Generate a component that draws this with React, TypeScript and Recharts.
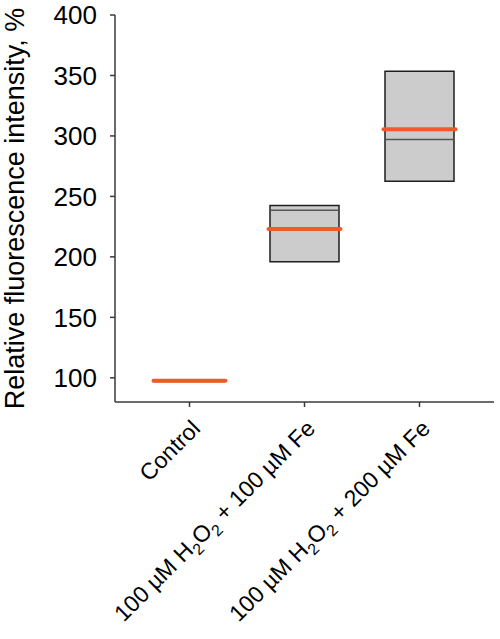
import React from 'react';
import { ComposedChart, Bar, Line, XAxis, YAxis, Label } from 'recharts';

const categories = ['Control', '100 µM H2O2 + 100 µM Fe', '100 µM H2O2 + 200 µM Fe'];
const boxLow = [97, 196, 262.5];
const boxHigh = [98, 242.5, 353.5];
const medians = [97.5, 238.5, 297];
const means = [97.5, 223, 305.5];
const yTicks = [100, 150, 200, 250, 300, 350, 400];
const yTitle = 'Relative fluorescence intensity, %';

const data = categories.map((name, i) => ({
    name,
    box: [boxLow[i], boxHigh[i]],
    median: medians[i],
    mean: means[i],
}));

const FONT = '"Liberation Sans", Arial, sans-serif';
const AXIS = '#3a3a3a';

const MedianDash = (props: any) => {
    const { cx, cy, index } = props;
    if (cx == null || cy == null || index === 0) return <g key={index} />;
    return <line key={index} x1={cx - 34} x2={cx + 34} y1={cy} y2={cy} stroke="#555" strokeWidth={1.6} />;
};

const MeanDash = (props: any) => {
    const { cx, cy, index } = props;
    if (cx == null || cy == null) return <g key={index} />;
    return <line key={index} x1={cx - 36} x2={cx + 36} y1={cy} y2={cy} stroke="#f05a28" strokeWidth={4} strokeLinecap="round" />;
};

const XTick = (props: any) => {
    const { x, y, payload } = props;
    const segs: { t: string; sub?: boolean }[] = [];
    String(payload.value).split(/(H2O2)/).forEach((p: string) => {
        if (p === 'H2O2') {
            segs.push({ t: 'H' }, { t: '2', sub: true }, { t: 'O' }, { t: '2', sub: true });
        } else if (p) {
            segs.push({ t: p });
        }
    });
    let low = false;
    return (
        <g transform={`translate(${x + 12},${y + 21})`}>
            <text transform="rotate(-45)" textAnchor="end" fontSize={23} fontFamily={FONT} fill="#000">
                {segs.map((s, i) => {
                    const dy = s.sub && !low ? 6 : !s.sub && low ? -6 : 0;
                    low = !!s.sub;
                    return (
                        <tspan key={i} dy={dy} fontSize={s.sub ? 16 : 23}>
                            {s.t}
                        </tspan>
                    );
                })}
            </text>
        </g>
    );
};

const YTitle = (props: any) => {
    const vb = props.viewBox || { x: 0, y: 15, width: 115, height: 387 };
    const cx = vb.x + 24;
    const cy = vb.y + vb.height / 2;
    return (
        <text x={cx} y={cy} transform={`rotate(-90 ${cx} ${cy})`} textAnchor="middle" fontSize={27} fontFamily={FONT} fill="#000">
            {yTitle}
        </text>
    );
};

export default function App() {
    return (
        <div style={{ position: 'absolute', left: 0, top: 0, background: '#fff' }}>
            <ComposedChart width={500} height={639} data={data} margin={{ top: 15, right: 6, bottom: 0, left: 0 }}>
                <XAxis
                    dataKey="name"
                    height={237}
                    padding={{ left: 17, right: 17 }}
                    interval={0}
                    tick={<XTick />}
                    tickSize={5}
                    axisLine={{ stroke: AXIS, strokeWidth: 1.5 }}
                    tickLine={{ stroke: AXIS, strokeWidth: 1.5 }}
                />
                <XAxis xAxisId="top" orientation="top" dataKey="name" height={0} tick={false} tickLine={false} axisLine={{ stroke: AXIS, strokeWidth: 1.5 }} />
                <YAxis
                    type="number"
                    domain={[80, 400]}
                    ticks={yTicks}
                    width={115}
                    tickSize={5}
                    tickMargin={13}
                    tick={{ fontSize: 26, fill: '#000', fontFamily: FONT }}
                    axisLine={{ stroke: AXIS, strokeWidth: 1.5 }}
                    tickLine={{ stroke: AXIS, strokeWidth: 1.5 }}
                >
                    <Label content={<YTitle />} />
                </YAxis>
                <YAxis yAxisId="right" orientation="right" width={0} tick={false} tickLine={false} axisLine={{ stroke: AXIS, strokeWidth: 1.5 }} />
                <Bar dataKey="box" barSize={69} fill="#cccccc" stroke="#1e1e1e" strokeWidth={1.5} isAnimationActive={false} />
                <Line dataKey="median" stroke="none" dot={<MedianDash />} activeDot={false} isAnimationActive={false} />
                <Line dataKey="mean" stroke="none" dot={<MeanDash />} activeDot={false} isAnimationActive={false} />
            </ComposedChart>
        </div>
    );
}
